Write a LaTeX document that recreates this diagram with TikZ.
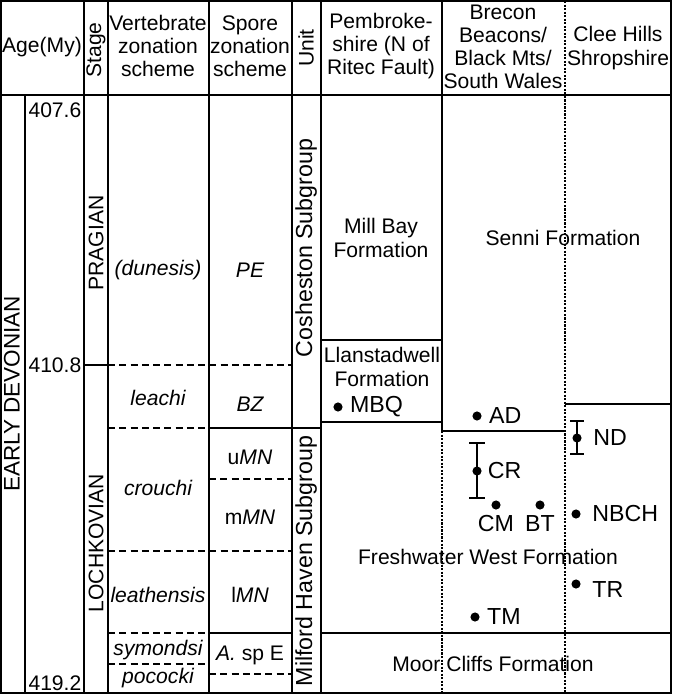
\documentclass[tikz,border=0pt]{standalone}
\usepackage{fontspec}
\setmainfont{Liberation Sans}
\usetikzlibrary{positioning}

\begin{document}
\begin{tikzpicture}[x=0.025cm,y=-0.025cm,
  font=\fontsize{15}{16.5}\selectfont,
  rule/.style={line width=1.1pt},
  zone/.style={line width=1.1pt,dash pattern=on 5pt off 3pt},
  fault/.style={line width=1pt,dash pattern=on 1.5pt off 1pt},
  hd/.style={align=center,inner sep=0pt},
  txt/.style={align=center,inner sep=1pt},
  sp/.style={txt,font=\fontsize{15}{16.5}\selectfont\itshape},
  vert/.style={rotate=90,inner sep=0pt},
  site/.style={circle,fill=black,inner sep=0pt,minimum size=6.5pt},
  lbl/.style={inner sep=1pt,font=\fontsize{16.5}{18}\selectfont},
  bar/.style={line width=0.9pt}]
\path[use as bounding box] (0,0) rectangle (672,694);
\fill[white] (0,0) rectangle (672,694);
% frame and column rules
\draw[rule] (1,1) rectangle (671,693);
\draw[rule] (1,95) -- (671,95);
\foreach \cx in {84,108,209,292,321}
  \draw[rule] (\cx,1) -- (\cx,693);
\draw[rule] (25,95) -- (25,693);
\draw[rule] (442,1) -- (442,431);
\draw[fault] (442,431) -- (442,693);
\draw[fault] (565,1) -- (565,693);
% stage and zone boundaries
\draw[rule] (84,365) -- (108,365);
\draw[zone] (108,365) -- (292,365);
\draw[zone] (108,428) -- (209,428);
\draw[rule] (209,428) -- (321,428);
\draw[zone] (209,479) -- (292,479);
\draw[zone] (108,551) -- (292,551);
\draw[zone] (108,633) -- (209,633);
\draw[rule] (209,633) -- (292,633);
\draw[zone] (108,664) -- (209,664);
\draw[zone] (209,674) -- (292,674);
% formation boundaries
\draw[rule] (321,340) -- (442,340);
\draw[rule] (321,422) -- (442,422);
\draw[rule] (442,431) -- (565,431);
\draw[rule] (565,404) -- (671,404);
\draw[rule] (321,633) -- (671,633);
% headers
\node[hd] (agehd) at (42,47) {Age(My)};
\node[hd,rotate=90] (stagehd) at (96,50) {Stage};
\node[hd] (verthd) at (158,46) {Vertebrate\\zonation\\scheme};
\node[hd] (sporehd) at (250,46) {Spore\\zonation\\scheme};
\node[hd,rotate=90] (unithd) at (306,48) {Unit};
\node[hd] (pembhd) at (381,46) {Pembroke-\\shire (N of\\Ritec Fault)};
\node[hd] (breconhd) at (503,47) {Brecon\\Beacons/\\Black Mts/\\South Wales};
\node[hd] (cleehd) at (618,48) {Clee Hills\\Shropshire};
% ages and stages
\node[vert,font=\fontsize{16}{18}\selectfont] (devon) at (12,394) {EARLY DEVONIAN};
\node[txt,anchor=east] (a1) at (83,110) {407.6};
\node[txt,anchor=east] (a2) at (83,365) {410.8};
\node[txt,anchor=east] (a3) at (83,683) {419.2};
\node[vert] (prag) at (96,243) {PRAGIAN};
\node[vert] (lochk) at (96,543) {LOCHKOVIAN};
% vertebrate and spore zones
\node[sp] (dunesis) at (158,270) {(dunesis)};
\node[sp] (pe) at (250,270) {PE};
\node[sp] (leachi) at (158,398) {leachi};
\node[sp] (bz) at (250,404) {BZ};
\node[txt] (umn) at (250,457) {u\textit{MN}};
\node[sp] (crouchi) at (158,488) {crouchi};
\node[txt] (mmn) at (250,517) {m\textit{MN}};
\node[sp] (leath) at (158,595) {leathensis};
\node[txt] (lmn) at (250,595) {l\textit{MN}};
\node[sp] (symondsi) at (158,650) {symondsi};
\node[txt] (asp) at (250,655) {\textit{A.} sp E};
\node[sp] (pococki) at (158,678) {pococki};
% units
\node[vert,font=\fontsize{16.5}{18}\selectfont] (cosh) at (306,248) {Cosheston Subgroup};
\node[vert,font=\fontsize{16.5}{18}\selectfont] (milf) at (306,561) {Milford Haven Subgroup};
% formations
\node[txt] (millbay) at (381,238) {Mill Bay\\Formation};
\node[txt] (llanst) at (382,367) {Llanstadwell\\Formation};
\node[txt] (senni) at (563,238) {Senni Formation};
\node[txt] (freshw) at (488,557) {Freshwater West Formation};
\node[txt] (moorcl) at (493,664) {Moor Cliffs Formation};
% localities
\node[site] (mbq) at (338,407) {};
\node[site] (ad) at (477,416) {};
\node[site] (cr) at (477,471) {};
\node[site] (cm) at (496,505) {};
\node[site] (bt) at (540,505) {};
\node[site] (nd) at (577,438) {};
\node[site] (nbch) at (576,514) {};
\node[site] (tr) at (576,584) {};
\node[site] (tm) at (475,617) {};
\node[lbl,right=4pt of mbq] (mbqt) {MBQ};
\node[lbl,right=4pt of ad] (adt) {AD};
\node[lbl,right=3pt of cr] (crt) {CR};
\node[lbl,below=3pt of cm] (cmt) {CM};
\node[lbl,below=3pt of bt] (btt) {BT};
\node[lbl,right=7pt of nd] (ndt) {ND};
\node[lbl,right=7pt of nbch] (nbcht) {NBCH};
\node[lbl,right=7pt of tr,yshift=-4pt] (trt) {TR};
\node[lbl,right=4pt of tm] (tmt) {TM};
% range bars
\draw[bar] (cr.center) ++(-8,-28) -- ++(16,0) ++(-8,0) -- ++(0,55) ++(-8,0) -- ++(16,0);
\draw[bar] (nd.center) ++(-7,-17) -- ++(14,0) ++(-7,0) -- ++(0,33) ++(-7,0) -- ++(14,0);
\end{tikzpicture}
\end{document}
